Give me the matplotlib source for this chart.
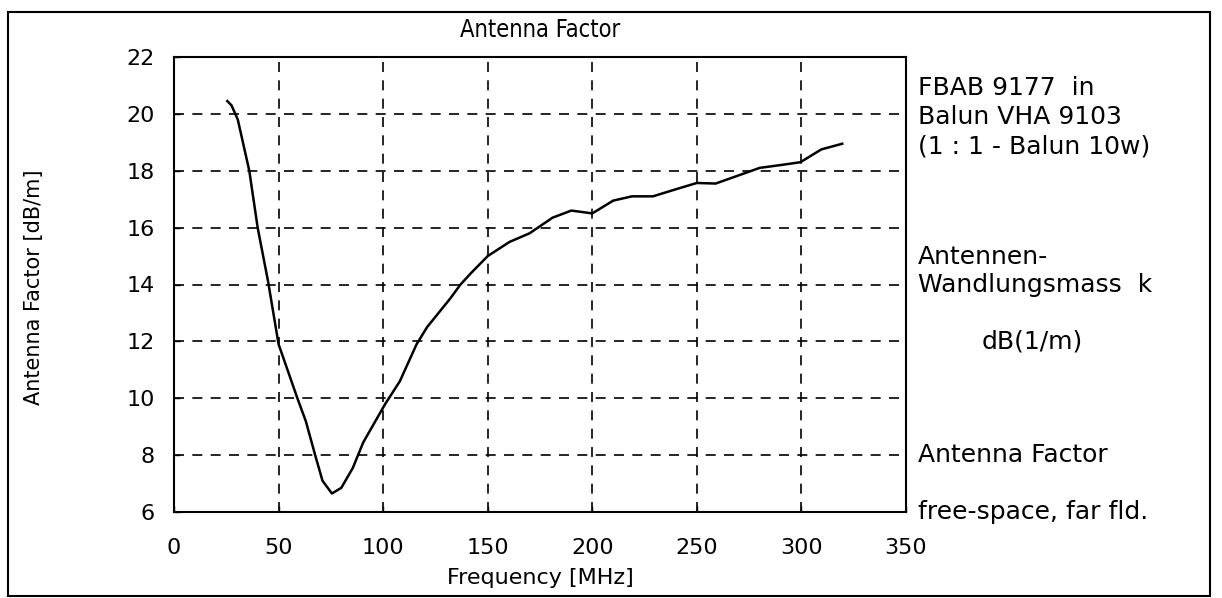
import matplotlib
matplotlib.use("Agg")
import matplotlib.pyplot as plt
from matplotlib.patches import Rectangle

freq_mhz = [25.5, 27.5, 30.5, 36, 40, 45, 50, 59, 63, 67.5, 71, 75.5, 80, 85.5,
            90.5, 101, 108, 116, 121, 132, 137, 142, 150, 160.5, 170, 181, 190,
            200, 210, 219, 229, 240, 250, 259, 280, 290, 299.5, 309.5, 319.5]
antenna_factor = [20.45, 20.3, 19.8, 18.0, 16.0, 14.1, 11.9, 10.0, 9.2, 8.0, 7.1,
                  6.65, 6.85, 7.55, 8.45, 9.8, 10.6, 11.9, 12.5, 13.5, 14.0, 14.4,
                  15.0, 15.5, 15.8, 16.35, 16.6, 16.5, 16.95, 17.1, 17.1, 17.35,
                  17.57, 17.55, 18.1, 18.2, 18.3, 18.75, 18.95]
x_ticks = [0, 50, 100, 150, 200, 250, 300, 350]
y_ticks = [6, 8, 10, 12, 14, 16, 18, 20, 22]
title = "Antenna Factor"
x_label = "Frequency [MHz]"
y_label = "Antenna Factor [dB/m]"
notes = [
    ("FBAB 9177  in", 918, 88),
    ("Balun VHA 9103", 918, 117),
    ("(1 : 1 - Balun 10w)", 918, 146),
    ("Antennen-", 918, 257),
    ("Wandlungsmass  k", 918, 285),
    ("dB(1/m)", 982, 342),
    ("Antenna Factor", 918, 455),
    ("free-space, far fld.", 918, 512),
]

W, H = 1222, 598
fig = plt.figure(figsize=(W / 100, H / 100), dpi=100)
fig.patch.set_facecolor("white")

left, right, top, bottom = 174, 906, 57, 512
ax = fig.add_axes([left / W, 1 - bottom / H, (right - left) / W, (bottom - top) / H])

ax.plot(freq_mhz, antenna_factor, color="black", linewidth=1.8, zorder=3)
ax.set_xlim(0, 350)
ax.set_ylim(6, 22)
ax.set_xticks(x_ticks)
ax.set_yticks(y_ticks)
ax.grid(True, color="black", linestyle=(0, (6, 5)), linewidth=1.2)
for s in ax.spines.values():
    s.set_linewidth(1.5)
    s.set_color("black")
ax.tick_params(direction="in", length=4, width=1, labelsize=16, colors="black")
ax.tick_params(axis="x", pad=19)
ax.tick_params(axis="y", pad=14)

fig.text((left + right) / 2 / W, 1 - 30 / H, title, ha="center", va="center",
         fontsize=17, family="DejaVu Sans", fontstretch="condensed")
fig.text((left + right) / 2 / W, 1 - 578 / H, x_label, ha="center", va="center",
         fontsize=16)
fig.text(34 / W, 1 - 287 / H, y_label, ha="center", va="center", rotation=90,
         fontsize=15)
for txt, px, py in notes:
    fig.text(px / W, 1 - py / H, txt, ha="left", va="center", fontsize=18)

fig.patches.append(Rectangle((8 / W, 2 / H), 1202 / W, 584 / H, transform=fig.transFigure,
                             fill=False, edgecolor="black", linewidth=1.5))

fig.savefig("out.png", dpi=100)
